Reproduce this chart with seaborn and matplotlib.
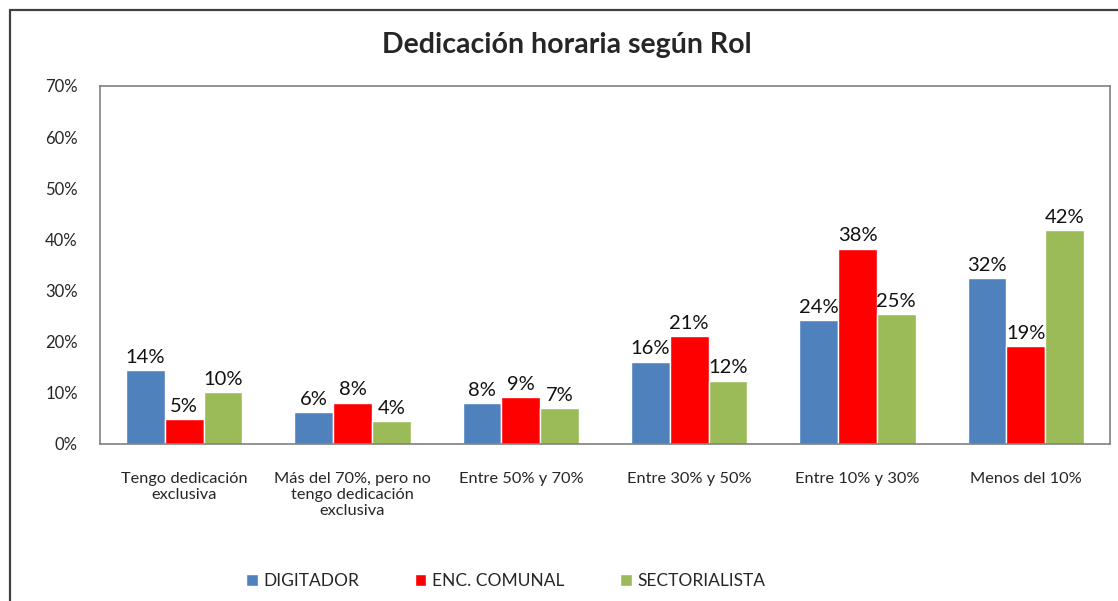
import pandas as pd
import matplotlib.pyplot as plt
import seaborn as sns
from matplotlib.lines import Line2D

# Data
categories = ['Tengo dedicación\nexclusiva', 'Más del 70%, pero no\ntengo dedicación\nexclusiva',
              'Entre 50% y 70%', 'Entre 30% y 50%', 'Entre 10% y 30%', 'Menos del 10%']
roles = ['DIGITADOR', 'ENC. COMUNAL', 'SECTORIALISTA']
digitador = [14.4, 6.3, 8.0, 16.1, 24.3, 32.4]
enc_comunal = [4.9, 8.1, 9.2, 21.1, 38.2, 19.2]
sectorialista = [10.2, 4.4, 7.1, 12.4, 25.4, 41.8]
colors = ['#4F81BD', '#FF0000', '#9BBB59']

df = pd.DataFrame({'cat': categories * 3,
                   'rol': [r for r in roles for _ in categories],
                   'val': digitador + enc_comunal + sectorialista})

sns.set_style('white')
plt.rcParams['font.family'] = ['Lato', 'DejaVu Sans']

fig = plt.figure(figsize=(11.18, 6.01), dpi=100)
ax = fig.add_axes([100 / 1118, 1 - 444 / 601, 1010 / 1118, 358 / 601])

sns.barplot(data=df, x='cat', y='val', hue='rol', palette=colors, width=0.69,
            saturation=1, ax=ax, legend=True)

for cont in ax.containers:
    ax.bar_label(cont, labels=[f'{v:.0f}%' for v in cont.datavalues],
                 fontsize=14.5, padding=3, color='#111111')

ax.set_ylim(0, 70)
ax.set_yticks(range(0, 71, 10))
ax.set_yticklabels([f'{t}%' for t in range(0, 71, 10)], fontsize=12)
ax.tick_params(axis='x', labelsize=11.8, pad=20, length=0)
ax.tick_params(axis='y', length=0, pad=16)
ax.set_xlabel('')
ax.set_ylabel('')
for s in ax.spines.values():
    s.set_color('#808080')
    s.set_linewidth(1.2)

ax.legend(loc='center', bbox_to_anchor=(506 / 1118, (601 - 581) / 601), bbox_transform=fig.transFigure,
          ncol=3, frameon=False, fontsize=12.5, handlelength=0.65, handleheight=0.65,
          handletextpad=0.35, columnspacing=3.2)

fig.text(0.507, 1 - 45 / 601, 'Dedicación horaria según Rol', ha='center', va='center',
         fontsize=20.5, fontweight='bold')

# outer frame (top and left edges visible)
fig.add_artist(Line2D([10 / 1118, 1], [1 - 10 / 601, 1 - 10 / 601], transform=fig.transFigure,
                      color='#404040', linewidth=1.6))
fig.add_artist(Line2D([10 / 1118, 10 / 1118], [0, 1 - 10 / 601], transform=fig.transFigure,
                      color='#404040', linewidth=1.6))

plt.savefig('out.png', dpi=100)
plt.close()
